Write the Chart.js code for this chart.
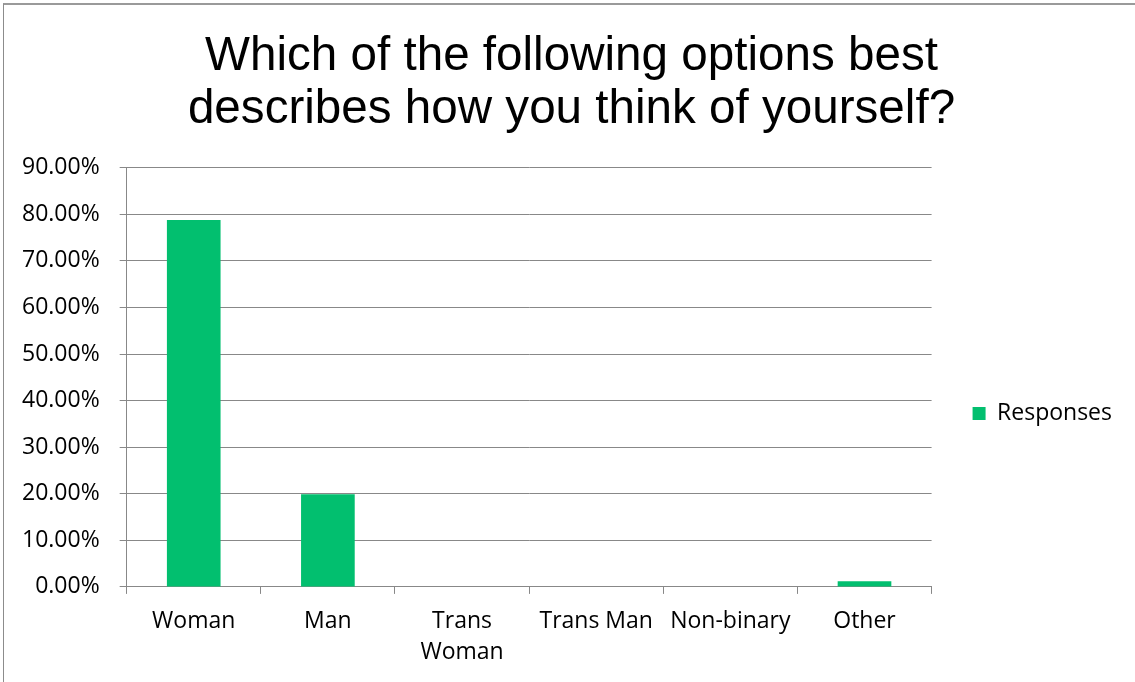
<!DOCTYPE html>
<html>
<head>
<meta charset="utf-8">
<title>Gender identity responses</title>
<script src="https://cdn.jsdelivr.net/npm/chart.js@4.4.1/dist/chart.umd.min.js"></script>
<style>
  html, body { margin: 0; padding: 0; overflow: hidden; background: #fff; }
  #frame {
    position: absolute; left: 3px; top: 3px; width: 1160px; height: 700px;
    border-left: 1px solid #8c8c8c; border-top: 2px solid #9a9a9a;
  }
  #wrap { position: absolute; left: 0; top: 0; width: 1135px; height: 682px; }
</style>
</head>
<body>
<div id="frame"></div>
<div id="wrap"><canvas id="chart"></canvas></div>
<script>
console.log('chart script loaded');

// survey answers, share of respondents in %
var categories = ['Woman', 'Man', ['Trans', 'Woman'], 'Trans Man', 'Non-binary', 'Other'];
var responses = [78.8, 19.9, 0, 0, 0, 1.2];
var seriesName = 'Responses';
var titleLines = ['Which of the following options best', 'describes how you think of yourself?'];

var tickFont = { family: '"Open Sans", sans-serif', size: 23 };
var gridGray = '#888888';

// nudge title and legend after layout: title sits a little right of
// centre, legend sits lower than the middle of the plot
var boxNudge = {
  id: 'boxNudge',
  afterLayout: function(chart) {
    var lg = chart.legend;
    if (lg) {
      lg.top += 72;
      lg.bottom += 72;
      lg.left -= 3;
      lg.right -= 3;
    }
    var t = chart.titleBlock;
    if (t) {
      t.left += 8;
      t.right += 8;
    }
  }
};

const CHART = document.getElementById('chart');

let barChart = new Chart(CHART, {
  type: 'bar',
  data: {
    labels: categories,
    datasets: [
      {
        label: seriesName,
        data: responses,
        backgroundColor: '#02bf6f',
        borderWidth: 0,
        barPercentage: 0.4,
        categoryPercentage: 1.0
      }
    ]
  },
  options: {
    responsive: true,
    maintainAspectRatio: false,
    animation: false,
    layout: { padding: { left: 2, right: 10, top: 3, bottom: 2 } },
    plugins: {
      title: {
        display: true,
        text: titleLines,
        color: '#000',
        font: { family: '"Liberation Sans", Arial, sans-serif', size: 47.6, weight: 'normal', lineHeight: 1.1 },
        padding: { top: 28, bottom: 32 }
      },
      legend: {
        position: 'right',
        labels: {
          color: '#000',
          font: tickFont,
          boxWidth: 13,
          boxHeight: 13,
          padding: 44
        }
      },
      tooltip: { enabled: false }
    },
    scales: {
      x: {
        offset: true,
        grid: { display: true, drawOnChartArea: false, drawTicks: true, tickLength: 7, offset: true, color: gridGray },
        border: { display: true, color: gridGray },
        ticks: { color: '#000', font: Object.assign({ lineHeight: 1.35 }, tickFont), padding: 12, maxRotation: 0, autoSkip: false }
      },
      y: {
        min: 0,
        max: 90,
        grid: { color: gridGray, tickLength: 7 },
        border: { display: true, color: gridGray },
        ticks: {
          stepSize: 10,
          color: '#000',
          font: tickFont,
          padding: 20,
          callback: function(v) { return v.toFixed(2) + '%'; }
        }
      }
    }
  },
  plugins: [boxNudge]
});
</script>
</body>
</html>
